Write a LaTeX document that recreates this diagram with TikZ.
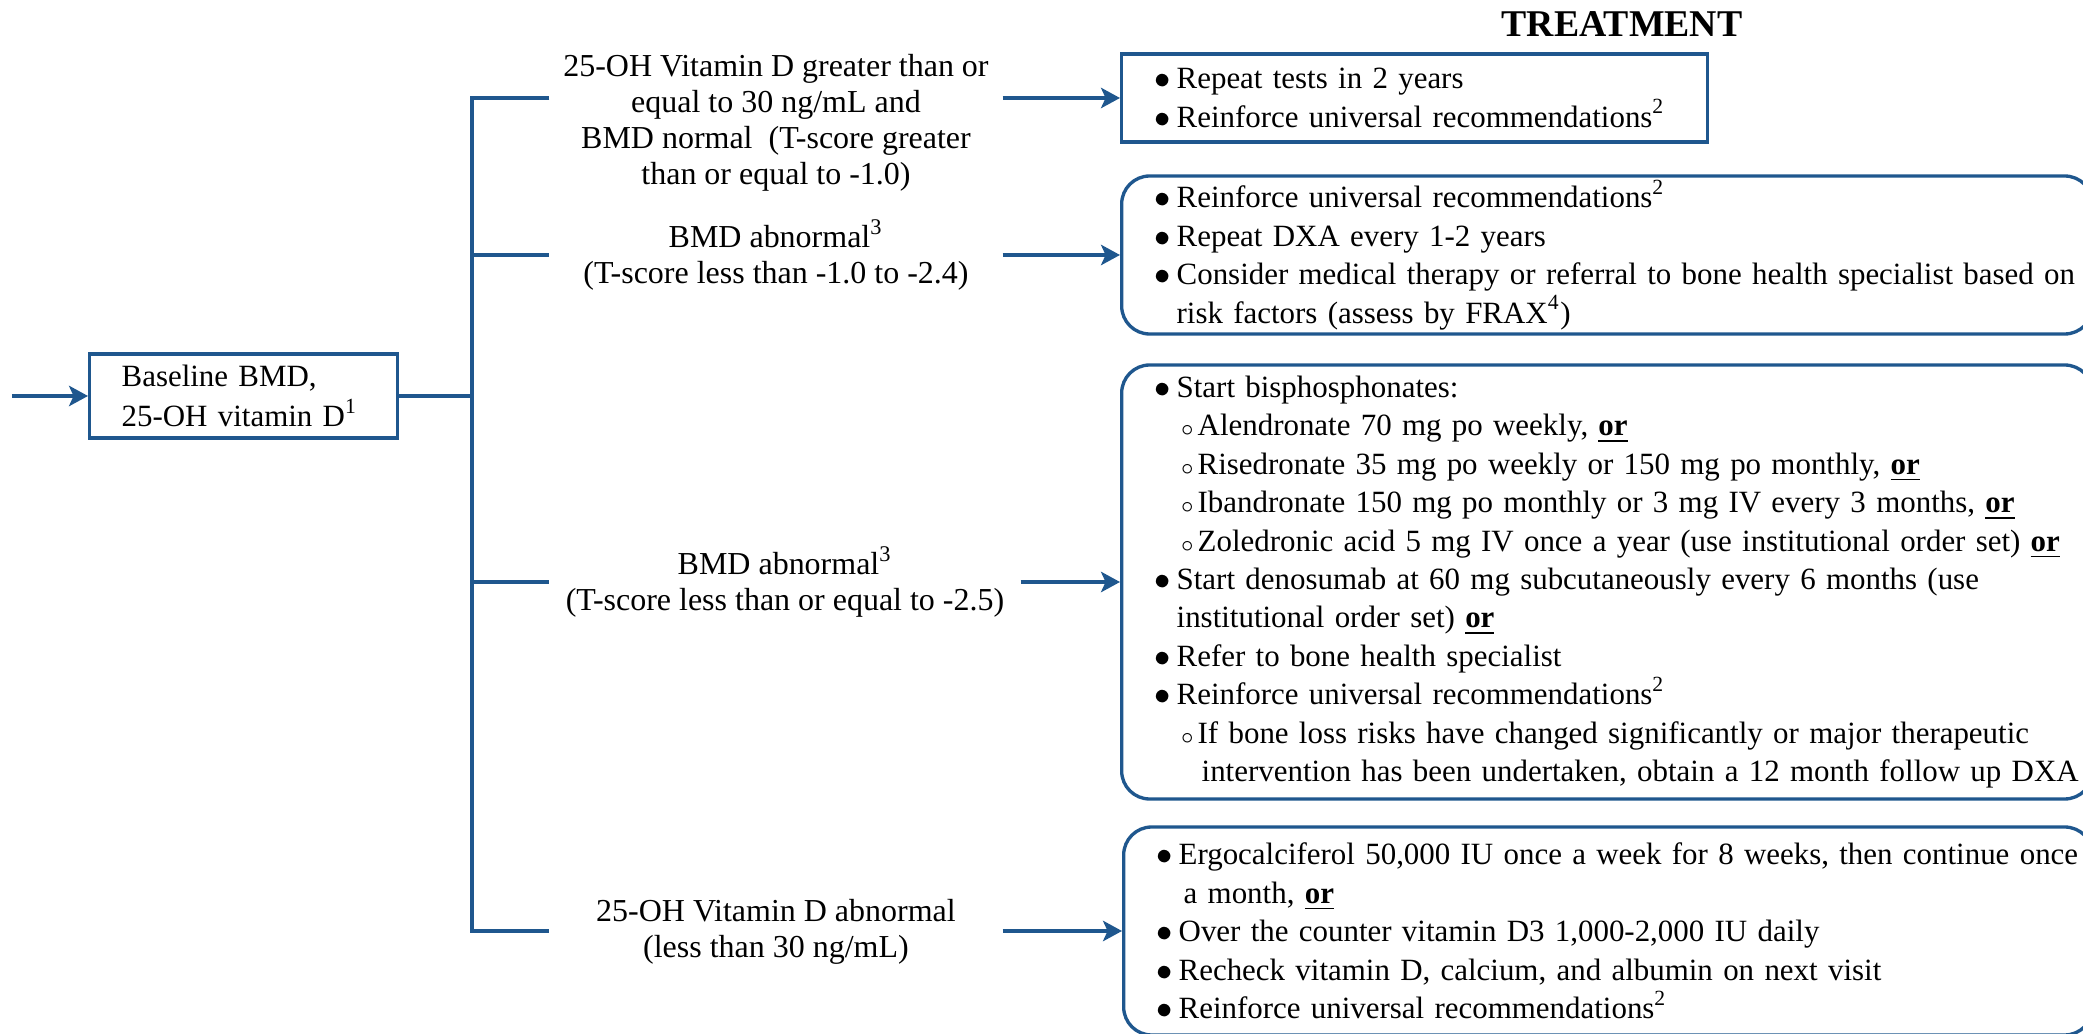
\documentclass[tikz,border=0pt]{standalone}
\usepackage{fontspec}
\setmainfont{Liberation Serif}
\usepackage{tikz}
\usetikzlibrary{arrows.meta}
\definecolor{flowblue}{RGB}{31,87,142}
\newcommand{\bl}[1]{\mbox{\makebox[0.22cm][l]{$\bullet$}#1}}
\newcommand{\sbl}[1]{\mbox{\hspace{0.26cm}\makebox[0.17cm][l]{$\scriptstyle\circ$}#1}}
\newcommand{\cnt}[2][0.22cm]{\mbox{\hspace{#1}#2}}
\newcommand{\orr}{\underline{\textbf{or}}}

\begin{document}
\begin{tikzpicture}[line width=0.95pt,
    txt/.style={font=\fontsize{9.1}{10.25}\selectfont, align=center, inner sep=0pt},
    lbox/.style={draw=flowblue, anchor=west, align=left, inner xsep=0.33cm, inner ysep=0pt,
        font=\fontsize{8.8}{10.93}\selectfont},
    rbox/.style={lbox, rounded corners=0.28cm},
    arr/.style={flowblue, -{Stealth[length=5.4pt,width=5.8pt,inset=1.3pt]}}]
    \useasboundingbox (0,0) rectangle (20.83,-10.34);

    \node[font=\fontsize{10.75}{12}\selectfont\bfseries, inner sep=0pt] (title) at (16.22,-0.245) {TREATMENT};

    \node[lbox, text width=2.44cm, minimum height=0.84cm, inner xsep=0.32cm,
        font=\fontsize{8.8}{11.4}\selectfont] (base) at (0.88,-3.96) {Baseline BMD,\\25-OH vitamin D\textsuperscript{1}};

    \node[txt, minimum width=4.50cm] (lab1) at (7.76,-1.23) {25-OH Vitamin D greater than or\\equal to 30 ng/mL and\\BMD normal~ (T-score greater\\than or equal to -1.0)};
    \node[txt, minimum width=4.50cm] (lab2) at (7.76,-2.55) {BMD abnormal\textsuperscript{3}\\(T-score less than -1.0 to -2.4)};
    \node[txt, minimum width=4.68cm] (lab3) at (7.85,-5.82) {BMD abnormal\textsuperscript{3}\\(T-score less than or equal to -2.5)};
    \node[txt, minimum width=4.50cm] (lab4) at (7.76,-9.32) {25-OH Vitamin D abnormal\\(less than 30 ng/mL)};

    \node[lbox, text width=5.20cm, minimum height=0.88cm] (box1) at (11.20,-0.98) {\bl{Repeat tests in 2 years}\\
        \bl{Reinforce universal recommendations\textsuperscript{2}}};
    \node[rbox, text width=9.05cm, minimum height=1.58cm] (box2) at (11.20,-2.55) {\bl{Reinforce universal recommendations\textsuperscript{2}}\\
        \bl{Repeat DXA every 1-2 years}\\
        \bl{Consider medical therapy or referral to bone health specialist based on}\\
        \cnt{risk factors (assess by FRAX\textsuperscript{4})}};
    \node[rbox, text width=9.05cm, minimum height=4.34cm] (box3) at (11.20,-5.82) {\bl{Start bisphosphonates:}\\
        \sbl{Alendronate 70 mg po weekly, \orr}\\
        \sbl{Risedronate 35 mg po weekly or 150 mg po monthly, \orr}\\
        \sbl{Ibandronate 150 mg po monthly or 3 mg IV every 3 months, \orr}\\
        \sbl{Zoledronic acid 5 mg IV once a year (use institutional order set) \orr}\\
        \bl{Start denosumab at 60 mg subcutaneously every 6 months (use}\\
        \cnt{institutional order set) \orr}\\
        \bl{Refer to bone health specialist}\\
        \bl{Reinforce universal recommendations\textsuperscript{2}}\\
        \sbl{If bone loss risks have changed significantly or major therapeutic}\\
        \cnt[0.47cm]{intervention has been undertaken, obtain a 12 month follow up DXA}};
    \node[rbox, text width=9.03cm, minimum height=2.08cm] (box4) at (11.22,-9.31) {\bl{Ergocalciferol 50,000 IU once a week for 8 weeks, then continue once}\\
        \cnt[0.27cm]{a month, \orr}\\
        \bl{Over the counter vitamin D3 1,000-2,000 IU daily}\\
        \bl{Recheck vitamin D, calcium, and albumin on next visit}\\
        \bl{Reinforce universal recommendations\textsuperscript{2}}};

    \coordinate (start) at (0.12,-3.96);
    \coordinate (split) at (4.72,-3.96);
    \draw[arr] (start) -- (base.west);
    \draw[flowblue] (base.east) -- (split);
    \draw[flowblue] (lab1.west |- box1.west) -| (split) |- (lab4.west |- box4.west);
    \draw[flowblue] (split |- box2.west) -- (lab2.west |- box2.west);
    \draw[flowblue] (split |- box3.west) -- (lab3.west |- box3.west);
    \foreach \i in {1,...,4}
        \draw[arr] (lab\i.east |- box\i.west) -- (box\i.west);
\end{tikzpicture}
\end{document}
